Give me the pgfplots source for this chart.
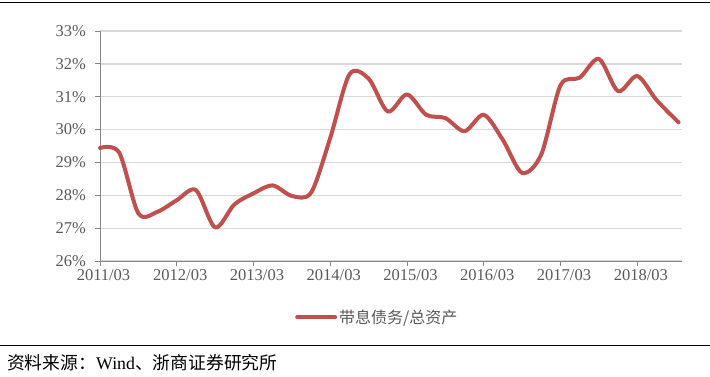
\documentclass[border=0pt]{standalone}
\usepackage{fontspec}
\setmainfont{Liberation Serif}
\newfontfamily\cjk{Noto Sans CJK SC}
\usepackage{pgfplots}
\pgfplotsset{compat=1.18}
\definecolor{serred}{HTML}{C0504D}
\definecolor{gridgray}{HTML}{D9D9D9}
\definecolor{axgray}{HTML}{868686}
\definecolor{txtgray}{HTML}{595959}
\begin{document}
\begin{tikzpicture}
\path[use as bounding box] (0pt,0pt) rectangle (710pt,-376pt);
\draw[line width=1pt] (0pt,-2pt) -- (710pt,-2pt);
\draw[line width=1pt] (0pt,-345pt) -- (710pt,-345pt);
\node[anchor=west,inner sep=0pt,font=\fontsize{17.8}{18}\selectfont] at (7pt,-362.3pt) {{\cjk 资料来源：}Wind{\cjk 、浙商证券研究所}};
\begin{axis}[
  at={(100pt,-261pt)}, anchor=south west,
  scale only axis, width=582pt, height=230pt,
  xmin=0, xmax=30.33, ymin=26, ymax=33,
  xtick={0,4,8,12,16,20,24,28},
  xticklabels={2011/03,2012/03,2013/03,2014/03,2015/03,2016/03,2017/03,2018/03},
  ytick={26,27,28,29,30,31,32,33},
  yticklabels={26\%,27\%,28\%,29\%,30\%,31\%,32\%,33\%},
  axis y line*=left, axis x line*=bottom,
  axis line style={axgray, line width=1pt},
  tick align=outside, major tick length=4.5pt,
  tick style={axgray, line width=1pt},
  ymajorgrids, grid style={gridgray, line width=1.3pt},
  tick label style={font=\fontsize{16.5}{17}\selectfont, text=txtgray},
  xticklabel style={xshift=3.5pt},
  yticklabel style={xshift=-6pt},
  legend style={at={(0.335,-0.245)}, anchor=west, draw=none, fill=none,
    font=\cjk\fontsize{16}{16}\selectfont, text=txtgray, inner sep=0pt},
  legend image code/.code={\draw[#1, line width=4pt] (0pt,0pt) -- (38pt,0pt);},
  clip=false,
]
\addplot[serred, line width=4pt, smooth, line cap=round, line join=round] coordinates {
(0,29.44) (1,29.30) (2,27.45) (3,27.50) (4,27.85) (5,28.16) (6,27.02) (7,27.72)
(8,28.06) (9,28.30) (10,27.98) (11,28.08) (12,29.75) (13,31.68) (14,31.55) (15,30.55)
(16,31.07) (17,30.45) (18,30.35) (19,29.95) (20,30.45) (21,29.68) (22,28.68) (23,29.25)
(24,31.35) (25,31.58) (26,32.15) (27,31.17) (28,31.63) (29,30.90) (30.15,30.22)
};
\addlegendentry{带息债务/总资产}
\end{axis}
\end{tikzpicture}
\end{document}
